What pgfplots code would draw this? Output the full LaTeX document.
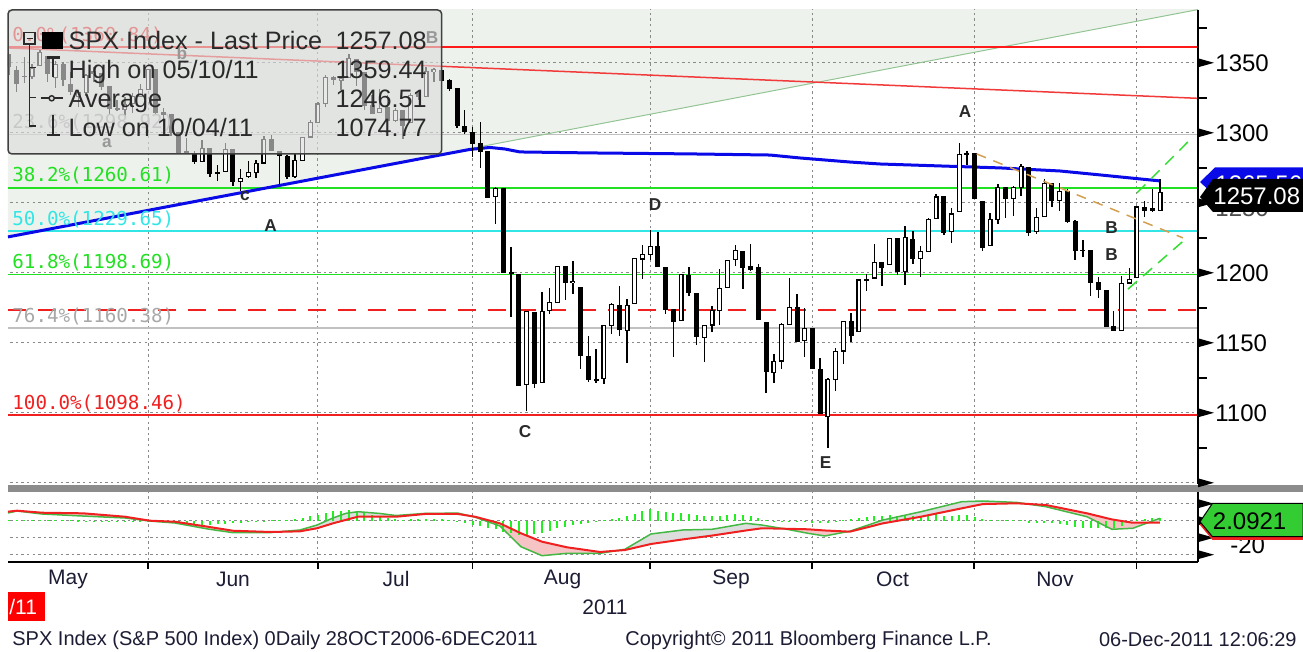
\documentclass[border=0pt]{standalone}
\usepackage{fontspec}
\setmainfont{Liberation Sans}
\newfontfamily\monofont{DejaVu Sans Mono}
\usepackage{pgfplots}
\pgfplotsset{compat=1.18}
\usepackage{pgfplotstable}

\definecolor{gridc}{HTML}{8A8A8A}
\definecolor{fibgreen}{HTML}{22E022}
\definecolor{fibcyan}{HTML}{33E6E6}
\definecolor{fibred}{HTML}{F02020}
\definecolor{topred}{HTML}{FF1A1A}
\definecolor{fibgray}{HTML}{C0C0C0}
\definecolor{fibtxtgray}{HTML}{A8A8A8}
\definecolor{shade}{HTML}{EDF3EC}
\definecolor{tanc}{HTML}{D2A050}
\definecolor{chgreen}{HTML}{33DD33}
\definecolor{mablue}{HTML}{0A0AE8}
\definecolor{trendgreen}{HTML}{94C494}
\definecolor{trendred}{HTML}{F23A3A}
\definecolor{macdgreen}{HTML}{44B844}
\definecolor{macdred}{HTML}{F02020}
\definecolor{histgreen}{HTML}{22EE22}
\definecolor{pinkfill}{HTML}{F6C4C4}
\definecolor{grayfill}{HTML}{DDDDDD}
\definecolor{lbl}{HTML}{2A2A2A}
\definecolor{legfill}{HTML}{DCDCDC}
\definecolor{legborder}{HTML}{404040}
\definecolor{sepgray}{HTML}{8C8C8C}
\definecolor{flaggreen}{HTML}{33CC33}
\definecolor{monthc}{HTML}{1C1C34}

\tikzset{gridl/.style={line width=0.5pt, draw=gridc, dash pattern=on 1.2pt off 1.6pt}}

\newcommand\legfont{\fontsize{12.6pt}{14pt}\selectfont}
\newcommand\fibfont{\monofont\fontsize{9.6pt}{11pt}\selectfont}
\newcommand\tickfont{\fontsize{12pt}{14pt}\selectfont}
\newcommand\lblfont{\bfseries\fontsize{8.6pt}{10pt}\selectfont}
\newcommand\monthfont{\fontsize{10.5pt}{12pt}\selectfont}
\newcommand\footfont{\fontsize{10pt}{12pt}\selectfont}

% daily OHLC, idx = trading day counted from 2 May 2011
\pgfplotstableread{
idx O H L C
2 1355.9 1355.9 1341.5 1347.3
3 1344.2 1348.0 1329.2 1335.1
4 1340.2 1354.4 1335.6 1340.2
5 1340.2 1349.4 1338.6 1346.3
6 1348.3 1359.4 1348.3 1357.2
7 1354.5 1354.5 1336.4 1342.1
8 1339.4 1351.1 1332.0 1348.7
9 1348.7 1350.5 1333.4 1337.8
10 1334.8 1343.3 1327.3 1329.5
11 1326.1 1330.4 1318.5 1329.0
12 1328.5 1341.8 1326.6 1340.7
13 1342.4 1346.8 1336.4 1343.6
14 1342.0 1342.0 1330.7 1333.3
15 1333.1 1333.1 1312.6 1317.4
16 1317.7 1323.7 1315.4 1316.3
17 1316.4 1325.9 1311.8 1320.5
18 1320.6 1328.5 1314.4 1325.7
19 1325.7 1334.6 1325.7 1331.1
20 1331.1 1345.2 1331.1 1345.2
21 1345.2 1345.2 1313.7 1314.6
22 1314.6 1318.0 1305.6 1312.9
23 1312.9 1312.9 1297.9 1300.2
24 1300.3 1300.3 1284.9 1286.2
25 1286.3 1296.2 1284.7 1284.9
26 1284.6 1287.0 1277.4 1279.6
27 1279.6 1294.5 1279.6 1289.0
28 1288.6 1288.6 1268.3 1271.0
29 1271.3 1277.0 1265.6 1271.8
30 1272.2 1292.5 1272.2 1287.9
31 1287.9 1287.9 1261.9 1265.4
32 1265.5 1274.1 1258.1 1267.6
33 1268.6 1279.8 1267.4 1271.5
34 1271.5 1280.4 1267.6 1278.4
35 1278.4 1297.6 1278.4 1295.5
36 1295.5 1298.6 1286.8 1287.1
37 1286.6 1286.6 1262.9 1283.5
38 1283.0 1283.9 1267.2 1268.5
39 1268.4 1284.9 1267.5 1280.1
40 1280.2 1296.8 1280.2 1296.7
41 1296.9 1309.2 1296.9 1307.4
42 1307.6 1322.0 1307.6 1320.6
43 1320.6 1341.0 1318.2 1339.7
44 1339.6 1340.9 1334.3 1337.9
45 1337.6 1340.9 1330.9 1339.2
46 1339.6 1356.5 1339.6 1353.2
47 1352.4 1352.4 1333.7 1343.8
48 1343.3 1343.3 1316.4 1319.5
49 1319.6 1327.2 1313.3 1313.6
50 1314.5 1331.5 1314.5 1317.7
51 1317.7 1326.9 1306.5 1308.9
52 1308.9 1317.7 1307.4 1316.1
53 1315.9 1315.9 1295.9 1305.4
54 1307.1 1328.1 1307.1 1326.7
55 1328.7 1330.4 1323.7 1325.8
56 1325.6 1347.0 1325.6 1343.8
57 1343.8 1346.1 1336.0 1345.0
58 1344.3 1344.3 1331.1 1337.4
59 1337.4 1338.5 1329.6 1331.9
60 1331.9 1331.9 1303.5 1304.9
61 1304.8 1316.3 1299.2 1300.7
62 1300.1 1304.2 1282.9 1292.3
63 1292.6 1307.4 1274.7 1286.9
64 1286.6 1286.6 1254.0 1254.1
65 1254.3 1261.2 1234.6 1260.3
66 1260.2 1260.2 1199.5 1200.1
67 1200.3 1218.1 1168.1 1199.4
68 1198.5 1198.5 1119.3 1119.5
69 1120.2 1172.9 1101.5 1172.5
70 1171.8 1171.8 1118.0 1120.8
71 1121.3 1186.3 1121.3 1172.6
72 1172.9 1189.0 1170.7 1178.8
73 1178.9 1204.5 1178.9 1204.5
74 1204.2 1204.2 1180.5 1192.8
75 1192.9 1208.5 1184.5 1193.9
76 1189.6 1189.6 1131.0 1140.7
77 1140.5 1154.5 1122.1 1123.5
78 1123.6 1145.5 1121.1 1123.8
79 1124.4 1162.4 1120.7 1162.4
80 1162.2 1178.6 1156.3 1177.6
81 1176.7 1190.7 1155.1 1159.3
82 1158.9 1181.2 1135.9 1176.8
83 1177.9 1210.3 1177.9 1210.1
84 1209.8 1220.1 1195.8 1212.9
85 1213.0 1230.7 1209.4 1218.9
86 1219.1 1229.3 1203.9 1204.4
87 1203.9 1203.9 1170.6 1174.0
88 1174.0 1174.0 1140.1 1165.2
89 1165.9 1198.6 1165.9 1198.6
90 1198.0 1204.4 1183.3 1185.9
91 1185.4 1185.4 1148.4 1154.2
92 1153.5 1162.5 1136.1 1162.3
93 1162.6 1176.4 1157.4 1172.9
94 1173.3 1202.4 1162.7 1188.7
95 1189.4 1209.1 1189.4 1209.1
96 1209.2 1220.1 1204.5 1216.0
97 1215.0 1215.0 1188.4 1204.1
98 1204.5 1220.4 1201.3 1202.1
99 1203.6 1206.3 1166.1 1166.8
100 1164.6 1164.6 1114.2 1129.6
101 1128.8 1141.7 1121.4 1136.4
102 1136.9 1164.2 1131.1 1163.0
103 1163.3 1195.9 1163.3 1175.4
104 1175.4 1184.7 1150.4 1151.1
105 1151.7 1175.1 1139.9 1160.4
106 1159.9 1159.9 1131.3 1131.4
107 1131.2 1139.0 1098.9 1099.2
108 1097.4 1125.1 1074.8 1124.0
109 1124.0 1146.1 1115.7 1144.0
110 1144.1 1165.5 1135.0 1165.0
111 1165.0 1171.4 1150.3 1155.5
112 1158.1 1194.9 1158.1 1194.9
113 1194.6 1199.2 1187.3 1195.5
114 1196.2 1220.3 1196.2 1207.3
115 1207.0 1207.5 1190.6 1203.7
116 1205.7 1224.6 1205.7 1224.6
117 1224.5 1224.5 1198.6 1200.9
118 1200.8 1233.1 1191.5 1225.4
119 1223.5 1229.6 1206.3 1209.9
120 1209.9 1219.4 1197.3 1215.4
121 1215.4 1239.0 1215.4 1238.3
122 1238.7 1256.6 1238.7 1254.2
123 1254.2 1254.2 1226.8 1229.1
124 1229.2 1246.3 1221.1 1242.0
125 1244.0 1292.7 1244.0 1284.6
126 1284.4 1287.1 1277.0 1285.1
127 1285.0 1285.0 1253.2 1253.3
128 1251.0 1251.0 1215.4 1218.3
129 1219.6 1242.5 1219.6 1237.9
130 1238.2 1263.2 1234.8 1261.2
131 1260.8 1260.8 1238.9 1253.2
132 1253.2 1261.7 1240.8 1261.1
133 1261.1 1277.6 1255.0 1275.9
134 1275.2 1275.2 1226.6 1229.1
135 1229.6 1246.2 1227.7 1239.7
136 1240.1 1267.0 1240.1 1263.9
137 1263.9 1263.9 1246.7 1251.8
138 1251.7 1264.3 1244.3 1257.8
139 1257.8 1259.6 1235.7 1236.9
140 1236.6 1237.7 1209.4 1216.1
141 1216.2 1223.5 1211.4 1215.7
142 1215.6 1215.6 1183.2 1193.0
143 1193.0 1196.8 1181.7 1188.0
144 1187.5 1187.5 1161.8 1161.8
145 1161.4 1172.7 1158.7 1158.7
146 1158.7 1197.4 1158.7 1192.6
147 1192.6 1203.7 1191.8 1195.2
148 1196.7 1247.1 1196.7 1247.0
149 1246.9 1251.1 1239.7 1244.6
150 1246.0 1260.1 1243.4 1244.3
151 1244.3 1266.7 1244.3 1257.1
}\ohlc

% MACD panel: signal (red) and MACD (green)
\pgfplotstableread{
idx sig mac
1.88 10.6 9.1
3.05 11.8 11.4
6.28 9.4 7.9
11.59 8.7 5.5
17.02 4.7 3.2
20.26 0.0 -0.4
23.49 -1.2 -2.7
27.76 -7.1 -9.8
31.0 -11.8 -14.1
35.92 -13.3 -13.9
39.67 -12.5 -10.9
41.87 -8.9 -5.1
43.94 -3.1 3.2
45.62 1.0 8.7
47.18 4.7 10.6
50.02 4.7 8.5
52.1 4.7 6.1
55.85 7.9 8.6
60.12 7.9 8.9
62.32 4.7 4.2
65.55 -3.1 -6.2
68.27 -14.8 -30.6
70.99 -24.7 -41.2
74.23 -31.3 -38.4
78.5 -36.8 -38.4
81.73 -34.5 -33.6
85.1 -27.4 -15.6
89.24 -22.0 -10.9
93.0 -17.5 -10.1
97.39 -11.5 -3.1
99.46 -8.9 -5.1
102.7 -9.5 -10.1
105.41 -10.1 -14.8
107.61 -11.5 -18.0
110.85 -12.9 -12.3
115.12 -3.1 0.8
120.04 4.7 10.6
125.34 14.6 22.4
128.06 19.6 23.2
132.46 20.5 21.5
136.21 18.5 16.5
141.52 8.7 4.7
144.76 1.5 -10.1
147.47 -2.4 -8.9
150.96 -2.4 2.8
}\macd

\pgfplotstableread{
idx h
2 0.8
3 0.8
4 0.8
5 0.8
6 0.8
7 0.6
8 0.6
9 0.5
10 0.5
11 0.3
12 -0.5
13 -1.2
14 -1.5
15 -1.5
16 -1.5
17 -1.5
18 -1.2
19 -1
20 -1
21 -1.5
22 -2
23 -2.5
24 -3
25 -3.5
26 -4
27 -4.5
28 -4.5
29 -4
30 -3.5
31 -3
32 -2
33 -1.2
34 -0.8
35 -0.5
36 0.5
37 0.8
38 0.8
39 1.5
40 3
41 5
42 7
43 9
44 11
45 12
46 13
47 12
48 9
49 7
50 5
51 3
52 1.5
53 1
54 1.5
55 2
56 2.5
57 2.5
58 2
59 0.5
60 -1.5
61 -3
62 -4.5
63 -6
64 -8
65 -10
66 -13
67 -15
68 -17
69 -17
70 -16
71 -14
72 -12
73 -9
74 -7
75 -5
76 -4
77 -3
78 -1.5
79 0.8
80 2
81 3
82 5
83 8
84 11
85 14
86 12
87 10
88 9
89 9
90 8
91 7
92 6
93 6
94 6
95 7
96 8
97 7
98 5
99 3
100 1
101 -1
102 -1
103 -0.8
104 -1.2
105 -1.5
106 -2
107 -3
108 -2.5
109 -1
110 0.8
111 1.5
112 3
113 4
114 5
115 6
116 7
117 6
118 7
119 6
120 6
121 7
122 8
123 6
124 5
125 7
126 7
127 4
128 1.5
129 1
130 0.8
131 0.8
132 1
133 1.2
134 -2
135 -3
136 -2.5
137 -3
138 -4
139 -5
140 -7
141 -8
142 -9
143 -9
144 -9
145 -8
146 -6
147 -3
148 1
149 2
150 3
151 3.5
}\hist

\begin{document}
\begin{tikzpicture}
\useasboundingbox (0pt,0pt) rectangle (651.5pt,-326pt);

% ================= main price panel =================
\begin{axis}[at={(4pt,-242pt)}, anchor=south west, scale only axis,
  width=595pt, height=237pt,
  xmin=1.88, xmax=155.9, ymin=1049.1, ymax=1387.7,
  axis line style={draw=none}, ticks=none, clip=true]

\addplot[fill=shade, draw=none] coordinates {(1.88,1225.6) (155.9,1388.0) (155.9,1400) (1.88,1400) (1.88,1225.6)};

% grid
\draw[gridl] (axis cs:20,1040) -- (axis cs:20,1400);
\draw[gridl] (axis cs:42,1040) -- (axis cs:42,1400);
\draw[gridl] (axis cs:62,1040) -- (axis cs:62,1400);
\draw[gridl] (axis cs:85,1040) -- (axis cs:85,1400);
\draw[gridl] (axis cs:106,1040) -- (axis cs:106,1400);
\draw[gridl] (axis cs:127,1040) -- (axis cs:127,1400);
\draw[gridl] (axis cs:148,1040) -- (axis cs:148,1400);
\draw[gridl] (axis cs:0,1050) -- (axis cs:160,1050);
\draw[gridl] (axis cs:0,1100) -- (axis cs:160,1100);
\draw[gridl] (axis cs:0,1150) -- (axis cs:160,1150);
\draw[gridl] (axis cs:0,1200) -- (axis cs:160,1200);
\draw[gridl] (axis cs:0,1250) -- (axis cs:160,1250);
\draw[gridl] (axis cs:0,1300) -- (axis cs:160,1300);
\draw[gridl] (axis cs:0,1350) -- (axis cs:160,1350);

% Fibonacci retracement levels
\addplot[draw=fibgray, line width=0.75pt, mark=none] coordinates {(1.88,1298.92) (155.9,1298.92)};
\addplot[draw=fibgreen, line width=0.75pt, mark=none] coordinates {(1.88,1260.61) (155.9,1260.61)};
\addplot[draw=fibcyan, line width=0.75pt, mark=none] coordinates {(1.88,1229.65) (155.9,1229.65)};
\addplot[draw=fibgreen, line width=0.75pt, mark=none] coordinates {(1.88,1198.69) (155.9,1198.69)};
\addplot[draw=fibgray, line width=0.75pt, mark=none] coordinates {(1.88,1160.38) (155.9,1160.38)};
\addplot[draw=fibred, line width=0.75pt, mark=none] coordinates {(1.88,1098.46) (155.9,1098.46)};
\addplot[draw=fibred, line width=0.75pt, mark=none, dash pattern=on 9pt off 6pt] coordinates {(1.88,1173.4) (155.9,1173.4)};

% trend lines
\addplot[draw=trendgreen, line width=0.5pt, mark=none] coordinates {(1.88,1225.6) (155.9,1388.0)};
\addplot[draw=trendred, line width=0.75pt, mark=none] coordinates {(1.88,1360.6) (155.9,1324.6)};

% 200-day average
\addplot[draw=mablue, line width=1.5pt, mark=none] coordinates {
(1.88,1225.6) (57.79,1284.1) (61.67,1288.1) (64.26,1289.5) (66.2,1288.4)
(68.14,1286.3) (77.2,1285.6) (90.14,1284.9) (100.5,1284.1) (104.38,1282.0)
(110.85,1279.1) (114.73,1277.7) (122.5,1276.3) (130.26,1274.9) (138.03,1272.7)
(143.2,1269.9) (150.97,1265.6)};

% candlesticks
\addplot[draw=none, mark=none, error bars/.cd, y dir=both, y explicit, error mark=none,
  error bar style={draw=black, line width=0.7pt}]
  table[x=idx, y expr={(\thisrow{H}+\thisrow{L})/2}, y error expr={(\thisrow{H}-\thisrow{L})/2}] {\ohlc};
\addplot[draw=none, mark=none, error bars/.cd, y dir=both, y explicit, error mark=none,
  error bar style={draw=black, line width=2.5pt}]
  table[x=idx, y expr={ifthenelse(\thisrow{C}<\thisrow{O}, (\thisrow{O}+\thisrow{C})/2, 900)},
        y error expr={abs(\thisrow{O}-\thisrow{C})/2+0.35}] {\ohlc};
\addplot[draw=none, mark=none, error bars/.cd, y dir=both, y explicit, error mark=none,
  error bar style={draw=black, line width=2.5pt}]
  table[x=idx, y expr={ifthenelse(\thisrow{C}<\thisrow{O}, 900, (\thisrow{O}+\thisrow{C})/2)},
        y error expr={abs(\thisrow{O}-\thisrow{C})/2+0.35}] {\ohlc};
\addplot[draw=none, mark=none, error bars/.cd, y dir=both, y explicit, error mark=none,
  error bar style={draw=white, line width=1.3pt}]
  table[x=idx, y expr={ifthenelse(\thisrow{C}<\thisrow{O}, 900, (\thisrow{O}+\thisrow{C})/2)},
        y error expr={max(abs(\thisrow{O}-\thisrow{C})/2-0.45,0)}] {\ohlc};

% recent channel lines
\addplot[draw=tanc, line width=0.75pt, mark=none, dash pattern=on 5pt off 4pt] coordinates {(127.25,1284.9) (153.94,1224.9)};
\addplot[draw=chgreen, line width=0.75pt, mark=none, dash pattern=on 6pt off 4pt] coordinates {(148.0,1257.0) (154.85,1294.9)};
\addplot[draw=chgreen, line width=0.75pt, mark=none, dash pattern=on 6pt off 4pt] coordinates {(146.83,1188.3) (154.46,1224.9)};

% 0.0% retracement level (drawn last)
\addplot[draw=topred, line width=0.8pt, mark=none] coordinates {(1.88,1361.2) (155.9,1361.2)};
\end{axis}

% ================= MACD panel =================
\begin{axis}[at={(4pt,-281pt)}, anchor=south west, scale only axis,
  width=595pt, height=35pt,
  xmin=1.88, xmax=155.9, ymin=-48.6, ymax=33.8,
  axis line style={draw=none}, ticks=none, clip=true]
\draw[gridl] (axis cs:20,-60) -- (axis cs:20,40);
\draw[gridl] (axis cs:42,-60) -- (axis cs:42,40);
\draw[gridl] (axis cs:62,-60) -- (axis cs:62,40);
\draw[gridl] (axis cs:85,-60) -- (axis cs:85,40);
\draw[gridl] (axis cs:106,-60) -- (axis cs:106,40);
\draw[gridl] (axis cs:127,-60) -- (axis cs:127,40);
\draw[gridl] (axis cs:148,-60) -- (axis cs:148,40);
\draw[gridl] (axis cs:0,20) -- (axis cs:160,20);
\draw[gridl] (axis cs:0,0) -- (axis cs:160,0);
\draw[gridl] (axis cs:0,-20) -- (axis cs:160,-20);
\draw[gridl] (axis cs:0,-40) -- (axis cs:160,-40);

\addplot[fill=pinkfill, draw=none] coordinates {(1.88,10.6)(3.05,11.8)(6.28,9.4)(11.59,8.7)(17.02,4.7)(20.26,0.0)(23.49,-1.2)(27.76,-7.1)(31.0,-11.8)(35.92,-13.3)(36.94,-13.08)(35.92,-13.9)(31.0,-14.1)(27.76,-9.8)(23.49,-2.7)(20.26,-0.4)(17.02,3.2)(11.59,5.5)(6.28,7.9)(3.05,11.4)(1.88,9.1)};
\addplot[fill=grayfill, draw=none] coordinates {(36.94,-13.08)(39.67,-12.5)(41.87,-8.9)(43.94,-3.1)(45.62,1.0)(47.18,4.7)(50.02,4.7)(52.1,4.7)(55.85,7.9)(60.12,7.9)(61.59,5.77)(60.12,8.9)(55.85,8.6)(52.1,6.1)(50.02,8.5)(47.18,10.6)(45.62,8.7)(43.94,3.2)(41.87,-5.1)(39.67,-10.9)};
\addplot[fill=pinkfill, draw=none] coordinates {(61.59,5.77)(62.32,4.7)(65.55,-3.1)(68.27,-14.8)(70.99,-24.7)(74.23,-31.3)(78.5,-36.8)(80.57,-35.33)(78.5,-38.4)(74.23,-38.4)(70.99,-41.2)(68.27,-30.6)(65.55,-6.2)(62.32,4.2)};
\addplot[fill=grayfill, draw=none] coordinates {(80.57,-35.33)(81.73,-34.5)(85.1,-27.4)(89.24,-22.0)(93.0,-17.5)(97.39,-11.5)(99.46,-8.9)(102.26,-9.42)(99.46,-5.1)(97.39,-3.1)(93.0,-10.1)(89.24,-10.9)(85.1,-15.6)(81.73,-33.6)};
\addplot[fill=pinkfill, draw=none] coordinates {(102.26,-9.42)(102.7,-9.5)(105.41,-10.1)(107.61,-11.5)(110.58,-12.78)(107.61,-18.0)(105.41,-14.8)(102.7,-10.1)};
\addplot[fill=grayfill, draw=none] coordinates {(110.58,-12.78)(110.85,-12.9)(115.12,-3.1)(120.04,4.7)(125.34,14.6)(128.06,19.6)(132.46,20.5)(133.71,19.83)(132.46,21.5)(128.06,23.2)(125.34,22.4)(120.04,10.6)(115.12,0.8)(110.85,-12.3)};
\addplot[fill=pinkfill, draw=none] coordinates {(133.71,19.83)(136.21,18.5)(141.52,8.7)(144.76,1.5)(147.47,-2.4)(149.41,-2.4)(147.47,-8.9)(144.76,-10.1)(141.52,4.7)(136.21,16.5)};
\addplot[fill=grayfill, draw=none] coordinates {(149.41,-2.4)(150.96,-2.4)(150.96,2.8)};
\addplot[draw=none, mark=none, error bars/.cd, y dir=both, y explicit, error mark=none,
  error bar style={draw=histgreen, line width=1pt}]
  table[x=idx, y expr={\thisrow{h}/2}, y error expr={abs(\thisrow{h})/2}] {\hist};
\addplot[draw=macdgreen, line width=0.75pt, mark=none] table[x=idx, y=mac] {\macd};
\addplot[draw=macdred, line width=1pt, mark=none] table[x=idx, y=sig] {\macd};
\end{axis}

% ================= annotations in pixel units =================
\begin{scope}[x=0.5pt, y=-0.5pt]
\node[anchor=west, inner sep=0, font=\fibfont, text=fibred] at (12,35) {0.0\%(1360.84)};
\node[anchor=west, inner sep=0, font=\fibfont, text=fibtxtgray] at (12,122) {23.6\%(1298.92)};
\node[anchor=west, inner sep=0, font=\fibfont, text=fibgreen] at (12,175.5) {38.2\%(1260.61)};
\node[anchor=west, inner sep=0, font=\fibfont, text=fibcyan] at (12,219) {50.0\%(1229.65)};
\node[anchor=west, inner sep=0, font=\fibfont, text=fibgreen] at (12,262.5) {61.8\%(1198.69)};
\node[anchor=west, inner sep=0, font=\fibfont, text=fibtxtgray] at (12,316.5) {76.4\%(1160.38)};
\node[anchor=west, inner sep=0, font=\fibfont, text=fibred] at (12,403) {100.0\%(1098.46)};

\node[font=\lblfont, text=lbl] at (107,143) {a};
\node[font=\lblfont, text=lbl] at (182,53) {b};
\node[font=\lblfont, text=lbl] at (432,38) {B};
\node[font=\lblfont, text=lbl] at (245,196) {c};
\node[font=\lblfont, text=lbl] at (270.5,225.5) {A};
\node[font=\lblfont, text=lbl] at (655,204.5) {D};
\node[font=\lblfont, text=lbl] at (525,432) {C};
\node[font=\lblfont, text=lbl] at (825.5,462.5) {E};
\node[font=\lblfont, text=lbl] at (965,112) {A};
\node[font=\lblfont, text=lbl] at (1111.5,228) {B};
\node[font=\lblfont, text=lbl] at (1111.5,255) {B};

\fill[legfill, fill opacity=0.62, rounded corners=2pt] (8,10) rectangle (441.7,154);
\draw[legborder, line width=0.75pt, rounded corners=2pt] (8,10) rectangle (441.7,154);
\draw[lbl, line width=0.6pt] (24,32.7) rectangle (35,44);
\draw[lbl, line width=0.6pt] (26.5,38.3) -- (32.5,38.3);
\draw[lbl, line width=0.6pt] (29.5,44) -- (29.5,126) -- (35.5,126);
\draw[lbl, line width=0.6pt] (29.5,67.7) -- (35.5,67.7);
\draw[lbl, line width=0.6pt] (29.5,97.3) -- (35.5,97.3);
\fill[black] (41.7,31.7) rectangle (62.7,49.3);
\draw[lbl, line width=1.2pt] (46.7,57.7) -- (60,57.7);
\draw[lbl, line width=0.9pt] (53.3,57.7) -- (53.3,76.7);
\draw[lbl, line width=0.8pt] (40.7,98.3) -- (62.7,98.3);
\draw[lbl, line width=0.7pt, fill=legfill] (51.7,98.3) circle (1.3pt);
\draw[lbl, line width=0.9pt] (53.3,115) -- (53.3,135);
\draw[lbl, line width=1.2pt] (46.7,135) -- (60,135);
\node[anchor=base west, inner sep=0, font=\legfont, text=lbl] at (68.3,49.3) {SPX Index - Last Price};
\node[anchor=base west, inner sep=0, font=\legfont, text=lbl] at (68.3,78.3) {High on 05/10/11};
\node[anchor=base west, inner sep=0, font=\legfont, text=lbl] at (68.3,107.5) {Average};
\node[anchor=base west, inner sep=0, font=\legfont, text=lbl] at (68.3,136.7) {Low on 10/04/11};
\node[anchor=base east, inner sep=0, font=\legfont, text=lbl] at (427,49.3) {1257.08};
\node[anchor=base east, inner sep=0, font=\legfont, text=lbl] at (427,78.3) {1359.44};
\node[anchor=base east, inner sep=0, font=\legfont, text=lbl] at (427,107.5) {1246.51};
\node[anchor=base east, inner sep=0, font=\legfont, text=lbl] at (427,136.7) {1074.77};

\fill[sepgray] (8,485) rectangle (1303,492);

\draw[black, line width=0.75pt] (1198,10) -- (1198,484);
\draw[black, line width=0.75pt] (1198,492) -- (1198,562);
\draw[black, line width=0.75pt] (8,562) -- (1198.4,562);
\foreach \px in {148,318,472.5,650,812,974,1136.6} {
  \draw[black, line width=0.75pt] (\px,562) -- (\px,569);
}
\foreach \yy in {62.8,132.8,202.8,272.8,342.8,412.8,482.8,503.7,520.7,537.7,554.7} {
  \fill[black] (1198,\yy-4.5) -- (1214,\yy) -- (1198,\yy+4.5) -- cycle;
}
\foreach \yy in {27.8,97.8,167.8,237.8,307.8,377.8,447.8} {
  \draw[black, line width=0.75pt] (1198,\yy) -- (1207,\yy);
}
\node[anchor=west, inner sep=0, font=\tickfont] at (1215,63.5) {1350};
\node[anchor=west, inner sep=0, font=\tickfont] at (1215,133.5) {1300};
\node[anchor=west, inner sep=0, font=\tickfont, text=black!70] at (1215,208) {1250};
\node[anchor=west, inner sep=0, font=\tickfont] at (1215,273.5) {1200};
\node[anchor=west, inner sep=0, font=\tickfont] at (1215,343.5) {1150};
\node[anchor=west, inner sep=0, font=\tickfont] at (1215,413.5) {1100};
\node[anchor=west, inner sep=0, font=\tickfont] at (1230,545) {-20};

\fill[mablue] (1200,182) -- (1215,167.5) -- (1303,167.5) -- (1303,196) -- (1215,196) -- cycle;
\node[anchor=west, inner sep=0, font=\tickfont, text=white] at (1215,184) {1265.56};
\fill[black] (1200,197) -- (1213,179) -- (1303,179) -- (1303,212) -- (1213,212) -- cycle;
\node[anchor=west, inner sep=0, font=\tickfont, text=white] at (1213,196) {1257.08};
\fill[macdred] (1200,525) -- (1212.5,507) -- (1303,507) -- (1303,540) -- (1212.5,540) -- cycle;
\filldraw[fill=flaggreen, draw=black, line width=0.5pt] (1200,521.7) -- (1212.5,503.3) -- (1303,503.3) -- (1303,536.7) -- (1212.5,536.7) -- cycle;
\node[anchor=west, inner sep=0, font=\tickfont] at (1212.5,521) {2.0921};

\node[font=\monthfont, text=monthc] at (68,579) {May};
\node[font=\monthfont, text=monthc] at (233,579) {Jun};
\node[font=\monthfont, text=monthc] at (396,579) {Jul};
\node[font=\monthfont, text=monthc] at (562.5,579) {Aug};
\node[font=\monthfont, text=monthc] at (731,579) {Sep};
\node[font=\monthfont, text=monthc] at (892.5,579) {Oct};
\node[font=\monthfont, text=monthc] at (1055,579) {Nov};
\node[font=\monthfont, text=monthc] at (605,607) {2011};
\fill[red] (8,592) rectangle (45,621);
\node[anchor=west, inner sep=0, font=\monthfont, text=white] at (9,607) {/11};

\node[anchor=west, inner sep=0, font=\footfont, text=monthc] at (12,640) {SPX Index (S\&P 500 Index) 0Daily 28OCT2006-6DEC2011};
\node[anchor=west, inner sep=0, font=\footfont, text=monthc] at (625,640) {Copyright© 2011 Bloomberg Finance L.P.};
\node[anchor=east, inner sep=0, font=\footfont, text=monthc] at (1297,640) {06-Dec-2011 12:06:29};
\end{scope}
\end{tikzpicture}
\end{document}
